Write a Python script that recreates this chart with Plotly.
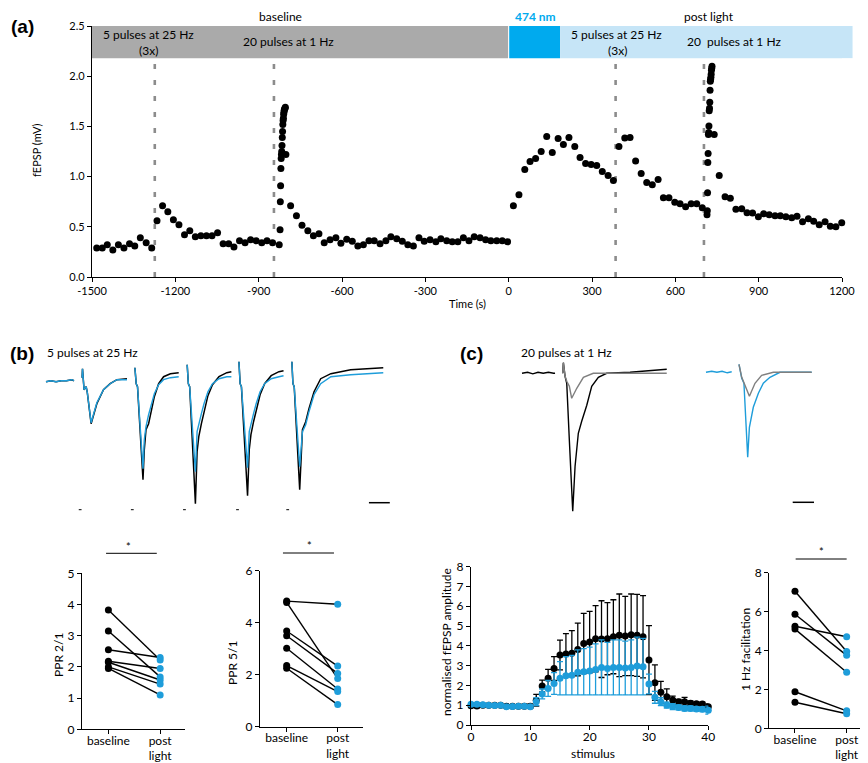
import plotly.graph_objects as go

# The page body has an 8 px margin, so the figure is sized to fit inside it.
PAGE_W, PAGE_H, OFF = 868, 763, 8
W, H = PAGE_W - OFF, PAGE_H - OFF
FONT = "Lato, 'Open Sans', sans-serif"
BLUE = "#1E9DDA"
LIGHT_BLUE_BAR = "#C6E5F7"
LASER_BLUE = "#00AAEE"
GREY_BAR = "#AAAAAA"

# ---------------- Panel (a): fEPSP time course ----------------
a_base_t = [-1483, -1463, -1445, -1425, -1405, -1385, -1365, -1346, -1326, -1305, -1285,
            -1266, -1246, -1227, -1207, -1187, -1167, -1148, -1128, -1108, -1088, -1068,
            -1048, -1028, -1008, -989, -969, -949, -929, -909, -889, -870, -850, -826,
            -823, -822, -821, -820, -819, -818, -817, -816, -815, -814, -813, -812, -811,
            -810, -809, -808, -807, -805, -804, -802,
            -785, -764, -744, -723, -703, -683, -664, -643, -622, -604, -583, -563, -543,
            -523, -503, -484, -463, -442, -424, -403, -383, -363, -343, -323, -304, -283,
            -262, -244, -223, -203, -183, -163, -143, -124, -103, -83, -64, -43, -23, -4]
a_base_v = [0.29, 0.29, 0.32, 0.27, 0.32, 0.29, 0.33, 0.31, 0.39, 0.34, 0.29,
            0.56, 0.71, 0.65, 0.57, 0.52, 0.42, 0.46, 0.40, 0.41, 0.41, 0.41,
            0.44, 0.33, 0.33, 0.30, 0.36, 0.34, 0.37, 0.36, 0.34, 0.36, 0.34, 0.32,
            0.47, 0.75, 0.91, 1.08, 1.18, 1.22, 1.25, 1.31, 1.39, 1.45, 1.52, 1.56, 1.58,
            1.62, 1.64, 1.66, 1.67, 1.68, 1.69, 1.22,
            0.71, 0.61, 0.515, 0.46, 0.41, 0.43, 0.34, 0.37, 0.39, 0.335, 0.375, 0.355, 0.31,
            0.32, 0.36, 0.36, 0.33, 0.36, 0.40, 0.38, 0.355, 0.32, 0.31, 0.39, 0.355, 0.37,
            0.35, 0.38, 0.36, 0.35, 0.35, 0.39, 0.36, 0.40, 0.39, 0.37, 0.36, 0.36, 0.36, 0.35]
a_post_t = [17, 37, 58, 77, 97, 117, 137, 157, 178, 197, 217, 238, 257, 277, 297, 317, 337,
            358, 377, 397, 418, 437, 457, 477, 497, 517, 538, 557, 577, 598, 617, 637, 657,
            677, 697,
            714, 715, 716, 717, 718, 719, 720, 721, 722, 723, 724, 725, 726, 727, 728, 729,
            730, 731, 732, 740,
            758, 779, 798, 818, 839, 858, 878, 899, 918, 938, 959, 978, 998, 1019, 1038,
            1058, 1079, 1098, 1118, 1139, 1158, 1178, 1199]
a_post_v = [0.71, 0.82, 1.07, 1.15, 1.18, 1.25, 1.40, 1.24, 1.38, 1.32, 1.39, 1.30, 1.19,
            1.13, 1.12, 1.11, 1.05, 1.01, 0.96, 1.30, 1.385, 1.39, 1.155, 1.03, 0.94, 0.92,
            0.97, 0.79, 0.79, 0.745, 0.73, 0.70, 0.73, 0.73, 0.69,
            0.62, 0.66, 0.84, 1.14, 1.23, 1.42, 1.44, 1.505, 1.655, 1.68, 1.74, 1.86, 1.95,
            1.97, 1.99, 2.02, 2.06, 2.08, 2.10, 1.42,
            1.01, 0.80, 0.785, 0.676, 0.68, 0.64, 0.637, 0.60, 0.63, 0.62, 0.61, 0.61, 0.60,
            0.59, 0.605, 0.55, 0.58, 0.555, 0.52, 0.55, 0.505, 0.50, 0.54]
a_stim_times = [-1274, -845, 385, 703]
a_xticks = [-1500, -1200, -900, -600, -300, 0, 300, 600, 900, 1200]
a_xticktext = ["-1500", "-1200", "-900", "-600", "-300", "0", "300", "600", "900", "1200"]
a_yticks = [0.0, 0.5, 1.0, 1.5, 2.0, 2.5]
a_light_on, a_light_off, a_post_end = 0, 185, 1238
a_bar_bottom, a_bar_top = 2.18, 2.5

# ---------------- Panel (b): 5 pulses at 25 Hz traces (ms, mV) ----------------
b_stim_ms = [0, 40, 80, 120, 160]
b_pre_t = [-27.7, -24, -20, -16, -12, -8, -6.2]
b_pre_v = [0.0, 0.01, 0.0, 0.01, 0.01, 0.02, 0.01]
b_taus = [
    [0, 0.3, 1.5, 3.1, 4.0, 6.9, 11.3, 16.4, 21.5, 26.7, 34.4],
    [0.5, 1.5, 2.5, 6.7, 7.7, 9.0, 11.0, 12.8, 15.4, 18.7, 22.5, 27.7, 34.1],
    [0.6, 1.5, 2.5, 6.9, 8.2, 9.5, 11.5, 13.5, 16.5, 20.0, 25.0, 31.0, 34.5],
    [0.3, 1.2, 2.2, 6.9, 8.2, 9.5, 11.5, 13.5, 16.5, 20.0, 25.0, 31.0, 34.5],
    [0.9, 1.7, 2.7, 6.9, 9.0, 11.5, 14.0, 17.9, 23.0, 30.8, 46.0, 71.0],
]
b_black = [
    [0.04, 0.13, -0.08, -0.05, -0.11, -0.42, -0.22, -0.08, -0.02, 0.02, 0.03],
    [0.14, -0.02, -0.05, -0.98, -0.68, -0.48, -0.42, -0.30, -0.15, -0.02, 0.05, 0.08, 0.09],
    [0.17, -0.02, -0.05, -1.22, -0.70, -0.55, -0.42, -0.30, -0.14, -0.03, 0.05, 0.09, 0.10],
    [0.20, -0.02, -0.05, -1.14, -0.68, -0.53, -0.40, -0.28, -0.13, -0.02, 0.06, 0.10, 0.11],
    [0.20, -0.02, -0.05, -1.08, -0.48, -0.40, -0.27, -0.10, 0.03, 0.08, 0.12, 0.14],
]
b_blue = [
    [0.04, 0.13, -0.08, -0.05, -0.11, -0.41, -0.21, -0.08, -0.02, 0.02, 0.02],
    [0.14, -0.02, -0.05, -0.87, -0.58, -0.45, -0.33, -0.24, -0.12, -0.03, 0.02, 0.04, 0.05],
    [0.17, -0.02, -0.05, -0.90, -0.50, -0.42, -0.32, -0.22, -0.10, -0.02, 0.03, 0.05, 0.05],
    [0.20, -0.02, -0.05, -0.86, -0.50, -0.42, -0.32, -0.22, -0.10, -0.02, 0.03, 0.05, 0.06],
    [0.20, -0.02, -0.05, -0.85, -0.50, -0.43, -0.30, -0.13, -0.02, 0.05, 0.07, 0.09],
]
b_scalebar_ms = [220, 236]
b_scalebar_mv = -1.21
b_stim_mark_ms = [-1.5, 38.5, 78.5, 119.2, 157.7]
b_stim_mark_mv = -1.28

# ---------------- Panel (c): 20 pulses at 1 Hz traces ----------------
c_pre_t = [-31.3, -27, -23, -19, -15, -11, -7, -5.9]
c_pre_v = [0.0, 0.01, -0.005, 0.01, 0.0, 0.01, 0.0, 0.0]
c_black_t = [0, 0.5, 1.8, 3.1, 5.1, 7.7, 9.5, 12.0, 14.6, 18.5, 22.3, 27.4, 33.8, 51.8, 80.0]
c_black_v = [0.0, 0.106, -0.03, -0.10, -0.67, -1.38, -0.93, -0.60, -0.48, -0.32, -0.13, -0.04, 0.0, 0.01, 0.04]
c_grey1_t = [0, 0.5, 1.8, 3.1, 5.1, 6.9, 10.8, 15.9, 23.5, 41.5, 80.0]
c_grey1_v = [0.0, 0.106, -0.03, -0.08, -0.13, -0.25, -0.15, -0.04, 0.0, 0.0, 0.0]
c_blpre_t = [-25.4, -21, -17, -13, -9, -5.6]
c_blpre_v = [0.0, 0.01, 0.0, 0.01, -0.005, 0.005]
c_blue_t = [0, 2.1, 3.8, 6.7, 8.0, 9.0, 11.0, 14.9, 18.7, 23.8, 31.5, 45.0, 55.9]
c_blue_v = [0.08, -0.06, -0.11, -0.85, -0.55, -0.48, -0.35, -0.21, -0.11, -0.05, 0.0, 0.0, 0.0]
c_grey2_t = [0, 2.1, 4.6, 8.0, 12.3, 17.4, 26.4, 55.9]
c_grey2_v = [0.08, -0.05, -0.13, -0.24, -0.11, -0.03, 0.0, 0.0]
c_scalebar_ms = [41.3, 57.7]
c_scalebar_mv = -1.30

# ---------------- Bottom row ----------------
groups = [0, 1]
group_text = ["baseline", "post<br>light"]
ppr21_base = [3.82, 3.15, 2.55, 2.18, 2.15, 2.00, 1.95]
ppr21_post = [2.22, 1.68, 2.30, 1.95, 1.58, 1.45, 1.10]
ppr51_base = [4.83, 4.78, 3.68, 3.50, 3.02, 2.35, 2.25]
ppr51_post = [4.71, 1.85, 2.33, 2.05, 1.45, 1.35, 0.85]
fac_base = [7.05, 5.86, 5.25, 5.10, 1.88, 1.34]
fac_post = [3.95, 3.75, 4.71, 2.88, 0.90, 0.75]

stimulus = [0, 1, 2, 3, 4, 5, 6, 7, 8, 9, 10, 11, 12, 13, 14, 15, 16, 17, 18, 19, 20,
            21, 22, 23, 24, 25, 26, 27, 28, 29, 30, 31, 32, 33, 34, 35, 36, 37, 38, 39, 40]
norm_black = [0.97, 0.96, 1.0, 1.0, 1.0, 1.0, 0.95, 0.95, 0.95, 0.95, 0.95, 1.25, 1.97,
              2.36, 2.86, 3.54, 3.59, 3.62, 3.82, 4.12, 4.19, 4.36, 4.34, 4.36, 4.46, 4.53,
              4.50, 4.56, 4.53, 4.46, 3.28, 2.14, 1.65, 1.43, 1.26, 1.18, 1.18, 1.10, 1.07,
              1.06, 0.92]
norm_black_sd = [0.08, 0.08, 0.06, 0.06, 0.06, 0.06, 0.08, 0.08, 0.08, 0.10, 0.10, 0.30,
                 0.30, 0.45, 0.60, 0.75, 1.03, 1.15, 1.33, 1.52, 1.55, 1.67, 1.94, 1.82,
                 1.87, 2.09, 2.00, 2.06, 2.07, 2.08, 1.74, 0.90, 0.55, 0.40, 0.20, 0.12,
                 0.22, 0.12, 0.10, 0.10, 0.15]
norm_blue = [1.05, 1.05, 1.02, 1.0, 0.98, 1.0, 0.92, 0.93, 0.95, 0.95, 0.92, 1.18, 1.57,
             1.85, 2.10, 2.36, 2.49, 2.52, 2.66, 2.69, 2.73, 2.81, 2.91, 2.85, 2.91, 2.91,
             2.88, 2.91, 2.98, 2.95, 2.07, 1.40, 1.18, 1.01, 0.93, 0.89, 0.84, 0.84, 0.81,
             0.80, 0.75]
norm_blue_sd = [0.08, 0.08, 0.08, 0.08, 0.08, 0.08, 0.08, 0.08, 0.08, 0.08, 0.08, 0.20,
                0.25, 0.40, 0.55, 0.84, 0.97, 1.00, 1.14, 1.17, 1.21, 1.29, 1.39, 1.33,
                1.39, 1.39, 1.36, 1.39, 1.46, 1.43, 0.50, 0.30, 0.20, 0.15, 0.15, 0.12,
                0.12, 0.12, 0.12, 0.12, 0.20]


# ---------------- helpers (layout geometry, in page pixels) ----------------
def px(x):
    return (x - OFF) / W


def py(y):
    return 1 - (y - OFF) / H


def dx(l, r):
    return [px(l), px(r)]


def dy(top, bot):
    return [py(bot), py(top)]


def axis(**kw):
    base = dict(showgrid=False, zeroline=False, showline=True, linecolor="black",
                linewidth=1.2, ticks="outside", ticklen=4, tickwidth=1, tickcolor="black",
                tickfont=dict(size=11, color="black", family=FONT), fixedrange=True,
                automargin=False)
    base.update(kw)
    return base


def hidden(**kw):
    base = dict(visible=False, showgrid=False, zeroline=False, fixedrange=True,
                automargin=False)
    base.update(kw)
    return base


fig = go.Figure()

# ---- panel a traces ----
fig.add_trace(go.Scatter(x=a_base_t, y=a_base_v, mode="markers", xaxis="x", yaxis="y",
                         marker=dict(color="black", size=7), cliponaxis=False))
fig.add_trace(go.Scatter(x=a_post_t, y=a_post_v, mode="markers", xaxis="x", yaxis="y",
                         marker=dict(color="black", size=7), cliponaxis=False))


# ---- panel b traces ----
def build(stims, taus, vals, pre_t=None, pre_v=None):
    xs, ys = [], []
    if pre_t is not None:
        xs += list(pre_t) + [None]
        ys += list(pre_v) + [None]
    for s, tl, vl in zip(stims, taus, vals):
        xs += [s + t for t in tl] + [None]
        ys += list(vl) + [None]
    return xs, ys


bx, byk = build(b_stim_ms, b_taus, b_black, b_pre_t, b_pre_v)
fig.add_trace(go.Scatter(x=bx, y=byk, mode="lines", xaxis="x2", yaxis="y2",
                         line=dict(color="black", width=1.5), connectgaps=False))
bx2, byb = build(b_stim_ms, b_taus, b_blue, b_pre_t, b_pre_v)
fig.add_trace(go.Scatter(x=bx2, y=byb, mode="lines", xaxis="x2", yaxis="y2",
                         line=dict(color=BLUE, width=1.4), connectgaps=False))
fig.add_trace(go.Scatter(x=b_scalebar_ms, y=[b_scalebar_mv] * 2, mode="lines",
                         xaxis="x2", yaxis="y2", line=dict(color="black", width=1.5)))
fig.add_trace(go.Scatter(x=b_stim_mark_ms, y=[b_stim_mark_mv] * len(b_stim_mark_ms),
                         mode="markers", xaxis="x2", yaxis="y2",
                         marker=dict(symbol="line-ew", size=2, line=dict(color="black", width=1))))

# ---- panel c traces ----
fig.add_trace(go.Scatter(x=c_pre_t + [None] + c_black_t, y=c_pre_v + [None] + c_black_v,
                         mode="lines", xaxis="x3", yaxis="y3",
                         line=dict(color="black", width=1.4)))
fig.add_trace(go.Scatter(x=c_grey1_t, y=c_grey1_v, mode="lines", xaxis="x3", yaxis="y3",
                         line=dict(color="#7F7F7F", width=1.4)))
fig.add_trace(go.Scatter(x=c_blpre_t + [None] + c_blue_t, y=c_blpre_v + [None] + c_blue_v,
                         mode="lines", xaxis="x4", yaxis="y4",
                         line=dict(color=BLUE, width=1.4)))
fig.add_trace(go.Scatter(x=c_grey2_t, y=c_grey2_v, mode="lines", xaxis="x4", yaxis="y4",
                         line=dict(color="#7F7F7F", width=1.4)))
fig.add_trace(go.Scatter(x=c_scalebar_ms, y=[c_scalebar_mv] * 2, mode="lines",
                         xaxis="x4", yaxis="y4", line=dict(color="black", width=1.5)))


# ---- paired plots ----
def paired(base, post, xa, ya):
    lx, ly = [], []
    for b, p in zip(base, post):
        lx += [groups[0], groups[1], None]
        ly += [b, p, None]
    fig.add_trace(go.Scatter(x=lx, y=ly, mode="lines", xaxis=xa, yaxis=ya,
                             line=dict(color="black", width=1.4), cliponaxis=False))
    fig.add_trace(go.Scatter(x=[groups[0]] * len(base), y=base, mode="markers",
                             xaxis=xa, yaxis=ya, marker=dict(color="black", size=7),
                             cliponaxis=False))
    fig.add_trace(go.Scatter(x=[groups[1]] * len(post), y=post, mode="markers",
                             xaxis=xa, yaxis=ya, marker=dict(color=BLUE, size=7),
                             cliponaxis=False))


paired(ppr21_base, ppr21_post, "x5", "y5")
paired(ppr51_base, ppr51_post, "x6", "y6")
paired(fac_base, fac_post, "x8", "y8")

# ---- normalised fEPSP ----
fig.add_trace(go.Scatter(x=stimulus, y=norm_black, mode="markers", xaxis="x7", yaxis="y7",
                         marker=dict(color="black", size=7),
                         error_y=dict(type="data", array=norm_black_sd, color="black",
                                      thickness=1.3, width=3),
                         cliponaxis=False))
fig.add_trace(go.Scatter(x=stimulus, y=norm_blue, mode="markers", xaxis="x7", yaxis="y7",
                         marker=dict(color=BLUE, size=7),
                         error_y=dict(type="data", array=norm_blue_sd, color=BLUE,
                                      thickness=1.3, width=3),
                         cliponaxis=False))

# ---------------- axes ----------------
TF12 = dict(size=12, family=FONT, color="black")
A_X = dx(92, 842)
A_Y = dy(26, 277)
layout_axes = dict(
    xaxis=axis(domain=A_X, range=[-1500, 1200], tickvals=a_xticks, ticktext=a_xticktext,
               anchor="y"),
    yaxis=axis(domain=A_Y, range=[0, 2.5], tickvals=a_yticks, tickformat=".1f",
               anchor="x"),
    xaxis2=hidden(domain=dx(40, 395), range=[-32.3, 240], anchor="y2"),
    yaxis2=hidden(domain=dy(355, 515), range=[-1.333, 0.267], anchor="x2"),
    xaxis3=hidden(domain=dx(515, 680), range=[-36.7, 90.2], anchor="y3"),
    yaxis3=hidden(domain=dy(355, 515), range=[-1.417, 0.183], anchor="x3"),
    xaxis4=hidden(domain=dx(700, 820), range=[-30, 62.3], anchor="y4"),
    yaxis4=hidden(domain=dy(355, 515), range=[-1.427, 0.173], anchor="x4"),
    xaxis5=axis(domain=dx(82, 185), range=[-0.51, 1.48], tickvals=groups,
                ticktext=group_text, anchor="y5", tickfont=TF12, ticklabelstandoff=-4),
    yaxis5=axis(domain=dy(573.3, 729.3), range=[0, 5], tickvals=[0, 1, 2, 3, 4, 5],
                anchor="x5", tickfont=TF12),
    xaxis6=axis(domain=dx(260, 363), range=[-0.523, 1.496], tickvals=groups,
                ticktext=group_text, anchor="y6", tickfont=TF12, ticklabelstandoff=-4),
    yaxis6=axis(domain=dy(570.7, 726.7), range=[0, 6], tickvals=[0, 2, 4, 6],
                anchor="x6", tickfont=TF12),
    xaxis7=axis(domain=dx(471, 708.3), range=[0, 40], tickvals=[0, 10, 20, 30, 40],
                anchor="y7", tickfont=TF12, ticklabelstandoff=-4),
    yaxis7=axis(domain=dy(566.7, 725), range=[0, 8], tickvals=[0, 1, 2, 3, 4, 5, 6, 7, 8],
                anchor="x7", tickfont=TF12),
    xaxis8=axis(domain=dx(769.3, 866), range=[-0.497, 1.374], tickvals=groups,
                ticktext=group_text, anchor="y8", tickfont=TF12, ticklabelstandoff=-4),
    yaxis8=axis(domain=dy(572.7, 728.3), range=[0, 8], tickvals=[0, 2, 4, 6, 8],
                anchor="x8", tickfont=TF12),
)

# ---------------- shapes ----------------
shapes = []
shapes.append(dict(type="rect", xref="x", yref="y", x0=-1500, x1=a_light_on - 2,
                   y0=a_bar_bottom, y1=a_bar_top, fillcolor=GREY_BAR, line=dict(width=0),
                   layer="below"))
shapes.append(dict(type="rect", xref="x", yref="y", x0=a_light_on + 2, x1=a_light_off,
                   y0=a_bar_bottom, y1=a_bar_top, fillcolor=LASER_BLUE, line=dict(width=0),
                   layer="below"))
shapes.append(dict(type="rect", xref="x", yref="y", x0=a_light_off, x1=1200,
                   y0=a_bar_bottom, y1=a_bar_top, fillcolor=LIGHT_BLUE_BAR,
                   line=dict(width=0), layer="below"))
# overhang of the post-light bar beyond the last tick (paper coords)
ax_l, ax_r = A_X
ay_b, ay_t = A_Y
over_r = ax_l + (a_post_end + 1500) / 2700 * (ax_r - ax_l)
shapes.append(dict(type="rect", xref="paper", yref="paper", x0=ax_r, x1=over_r,
                   y0=ay_b + a_bar_bottom / 2.5 * (ay_t - ay_b), y1=ay_t,
                   fillcolor=LIGHT_BLUE_BAR, line=dict(width=0), layer="below"))
for t in a_stim_times:
    shapes.append(dict(type="line", xref="x", yref="y", x0=t, x1=t, y0=0, y1=a_bar_bottom,
                       line=dict(color="#8C8C8C", width=2.6, dash="5px,11px"), layer="below"))


def sig(xa, x0, x1, ytop):
    shapes.append(dict(type="line", xref=xa, yref="paper", x0=x0, x1=x1, y0=py(ytop),
                       y1=py(ytop), line=dict(color="black", width=1)))


sig("x5", -0.045, 0.935, 553.3)
sig("x6", -0.073, 0.927, 553)
sig("x8", 0.013, 1.0, 559)

# ---------------- annotations ----------------
ann = []


def txt(x, y, s, size=12, color="black", bold=False, family=FONT, angle=0, xanchor="center"):
    ann.append(dict(x=px(x), y=py(y), xref="paper", yref="paper",
                    text=("<b>%s</b>" % s) if bold else s,
                    showarrow=False, font=dict(size=size, color=color, family=family),
                    xanchor=xanchor, yanchor="middle", textangle=angle))


LBL = "'Liberation Sans', Arial, sans-serif"
txt(22, 27, "(a)", size=19, bold=True, family=LBL)
txt(22, 353, "(b)", size=19, bold=True, family=LBL)
txt(471, 354, "(c)", size=19, bold=True, family=LBL)

txt(280, 16.5, "baseline", size=12)
txt(535, 16.5, "474 nm", size=12, color=LASER_BLUE, bold=True)
txt(709, 16.5, "post light", size=12)
txt(148, 34, "5 pulses at 25 Hz", size=12)
txt(148, 51, "(3x)", size=12)
txt(288, 42, "20 pulses at 1 Hz", size=12)
txt(616, 34, "5 pulses at 25 Hz", size=12)
txt(617, 51, "(3x)", size=12)
txt(734, 42, "20  pulses at 1 Hz", size=12)

txt(37, 150, "fEPSP (mV)", size=11, angle=-90)
txt(467, 303, "Time (s)", size=11)

txt(45, 352, "5 pulses at 25 Hz", size=12, xanchor="left")
txt(519, 352, "20 pulses at 1 Hz", size=12, xanchor="left")

txt(58, 655, "PPR 2/1", size=12, angle=-90)
txt(232, 663, "PPR 5/1", size=12, angle=-90)
txt(446, 642, "normalised fEPSP amplitude", size=12, angle=-90)
txt(593, 753, "stimulus", size=12)
txt(745, 650, "1 Hz facilitation", size=12, angle=-90)

txt(128, 546, "*", size=11)
txt(309, 545, "*", size=11)
txt(821, 551, "*", size=11)

fig.update_layout(
    width=W, height=H, margin=dict(l=0, r=0, t=0, b=0, autoexpand=False),
    paper_bgcolor="white", plot_bgcolor="rgba(0,0,0,0)",
    showlegend=False, font=dict(family=FONT, color="black"),
    shapes=shapes, annotations=ann, **layout_axes,
)

fig.write_html("out.html")
